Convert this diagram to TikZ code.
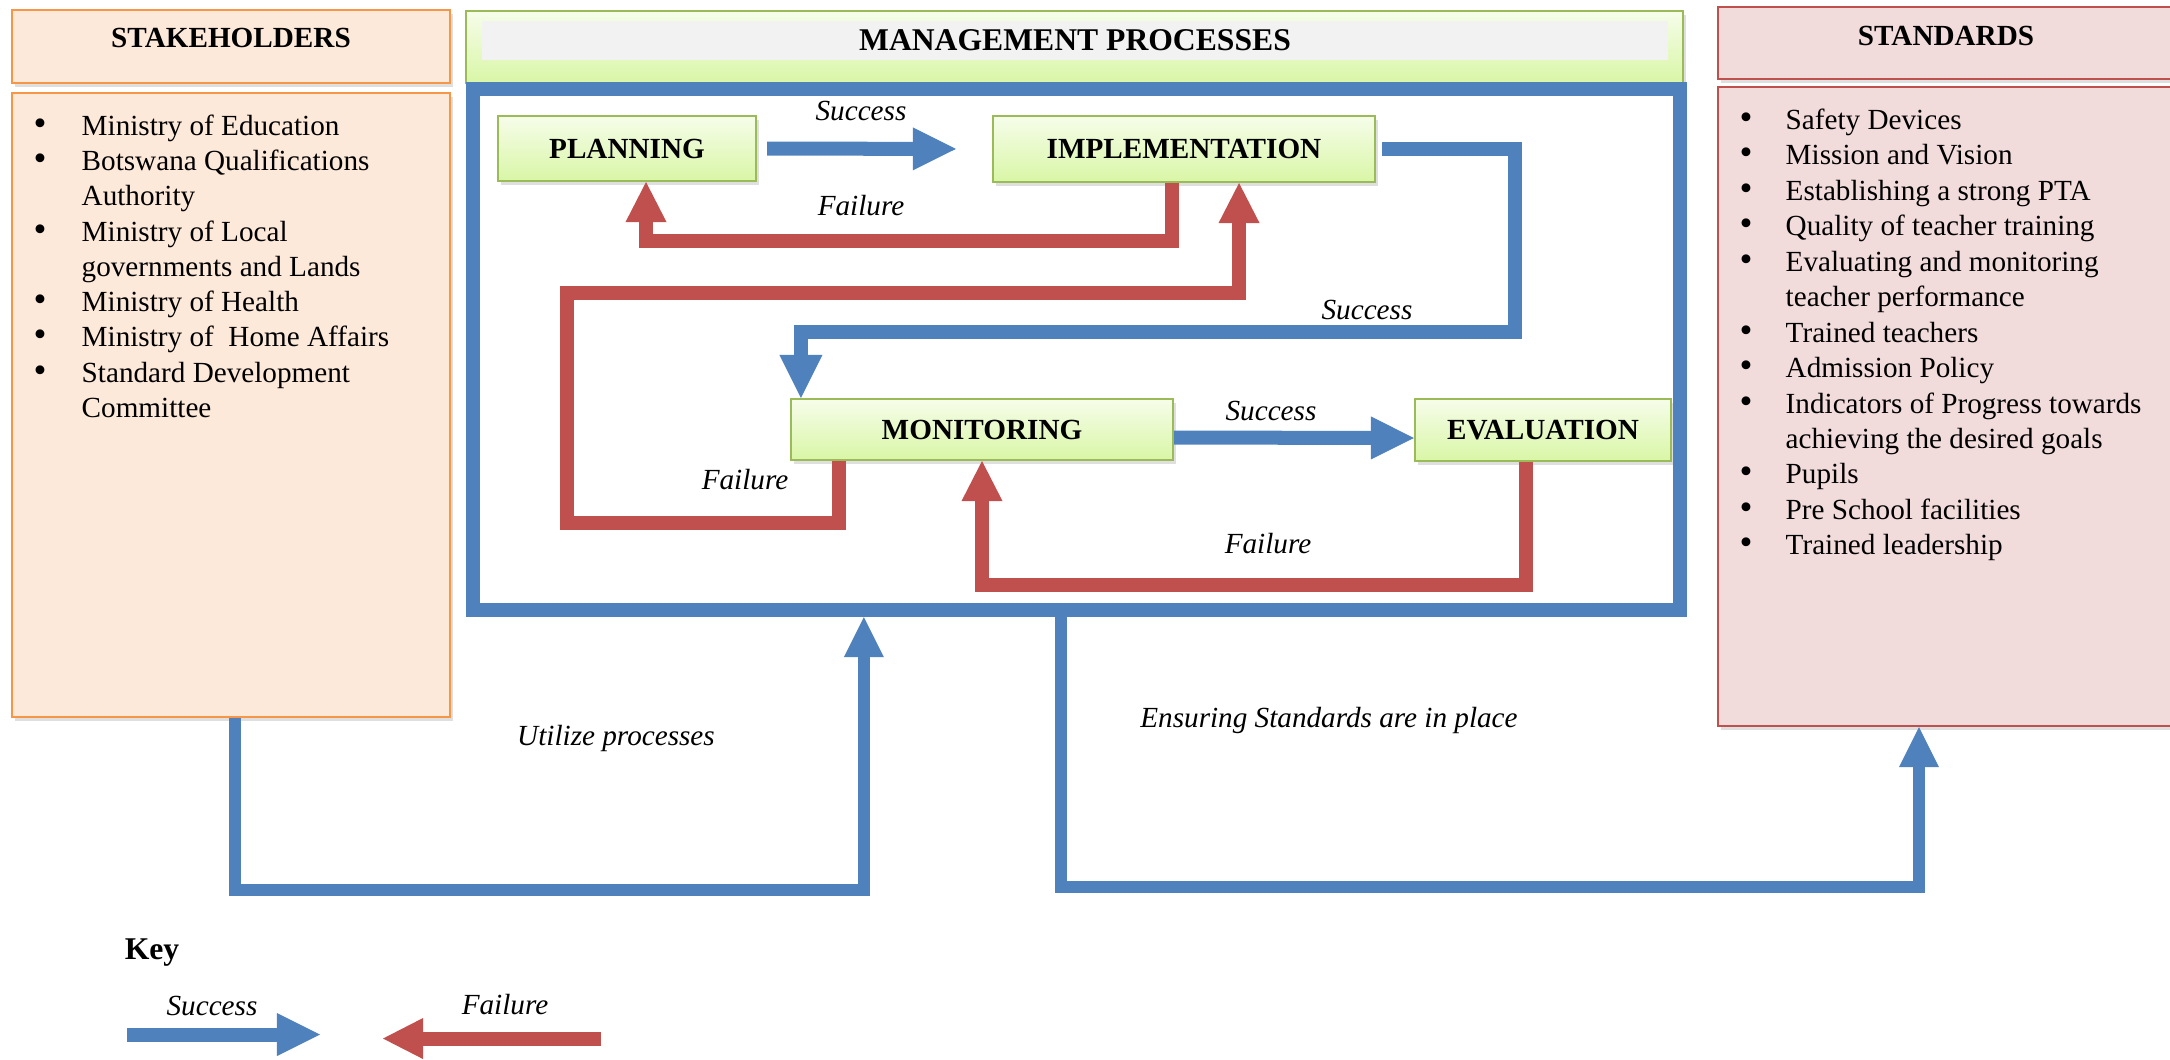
\documentclass[tikz,border=0pt]{standalone}
\usepackage{fontspec}
\setmainfont{Liberation Serif}
\usetikzlibrary{arrows.meta,shadows}

\definecolor{succblue}{HTML}{4F81BD}
\definecolor{failred}{HTML}{C0504D}
\definecolor{boxtop}{HTML}{F6FDEA}
\definecolor{boxbot}{HTML}{D9F6A6}
\definecolor{boxline}{HTML}{9BBB59}
\definecolor{stakefill}{HTML}{FDE9D9}
\definecolor{stakeline}{HTML}{F79646}
\definecolor{stdfill}{HTML}{F2DCDB}
\definecolor{stdline}{HTML}{C0504D}
\definecolor{bargrey}{HTML}{F2F2F2}

\newcommand{\dsz}{\fontsize{8.3}{10}\selectfont}
\newcommand{\tsz}{\fontsize{9}{11}\selectfont}

\tikzset{
	boxshadow/.style={drop shadow={opacity=0.25,shadow xshift=0.03cm,shadow yshift=-0.04cm}},
	procbox/.style={draw=boxline, line width=0.02cm, top color=boxtop, bottom color=boxbot, inner sep=0, font=\dsz\bfseries, boxshadow},
	sidebox/.style={line width=0.02cm, inner sep=0, boxshadow},
	succ/.style={succblue, line width=0.14cm, -{Triangle[width=0.43cm,length=0.43cm,line width=0pt]}},
	fail/.style={failred, line width=0.14cm, -{Triangle[width=0.41cm,length=0.40cm,line width=0pt]}},
	link/.style={succblue, line width=0.12cm, -{Triangle[width=0.40cm,length=0.40cm,line width=0pt]}},
	lbl/.style={font=\dsz\itshape, inner sep=0},
	itemtxt/.style={font=\dsz, anchor=base west, inner sep=0},
	dot/.style={font=\fontsize{10.5}{12}\selectfont, anchor=base, inner sep=0},
	title/.style={font=\dsz\bfseries, inner sep=0}
}

\begin{document}
\begin{tikzpicture}[x=0.01cm,y=-0.01cm]
	\useasboundingbox (0,0) rectangle (2170,1059);
	
	% stakeholders and standards
	\node[sidebox, draw=stakeline, fill=stakefill, minimum width=4.38cm, minimum height=0.73cm] (stakehead) at (231,46.5) {};
	\node[title] at (231,38) {STAKEHOLDERS};
	\node[sidebox, draw=stakeline, fill=stakefill, minimum width=4.38cm, minimum height=6.24cm] (stakebody) at (231,405) {};
	\node[sidebox, draw=stdline, fill=stdfill, minimum width=4.56cm, minimum height=0.72cm] (stdhead) at (1946,43) {};
	\node[title] at (1946,36) {STANDARDS};
	\node[sidebox, draw=stdline, fill=stdfill, minimum width=4.56cm, minimum height=6.39cm] (stdbody) at (1946,406.5) {};
	
	\foreach \yy in {135,170,241,311,346,382}
		\node[dot] at (40,\yy) {•};
	\foreach \yy/\txt in {135/Ministry of Education, 170/Botswana Qualifications, 205/Authority, 241/Ministry of Local, 276/governments and Lands, 311/Ministry of Health, 346/Ministry of\ \ Home Affairs, 382/Standard Development, 417/Committee}
		\node[itemtxt] at (81,\yy) {\txt};
	
	\foreach \yy in {129,164,200,235,271,342,377,413,483,519,554}
		\node[dot] at (1746,\yy) {•};
	\foreach \yy/\txt in {129/Safety Devices, 164/Mission and Vision, 200/Establishing a strong PTA, 235/Quality of teacher training, 271/Evaluating and monitoring, 306/teacher performance, 342/Trained teachers, 377/Admission Policy, 413/Indicators of Progress towards, 448/achieving the desired goals, 483/Pupils, 519/Pre School facilities, 554/Trained leadership}
		\node[itemtxt] at (1785,\yy) {\txt};
	
	% management processes
	\node[procbox, minimum width=12.17cm, minimum height=0.72cm] (mgmthead) at (1074.5,47) {};
	\node[fill=bargrey, minimum width=11.86cm, minimum height=0.39cm, inner sep=0, font=\tsz\bfseries] (mgmtbar) at (1075,40.5) {MANAGEMENT PROCESSES};
	\node[draw=succblue, line width=0.14cm, minimum width=12.07cm, minimum height=5.21cm, inner sep=0] (mgmt) at (1076.5,349.5) {};
	
	\node[procbox, minimum width=2.58cm, minimum height=0.65cm] (plan) at (627,148.5) {PLANNING};
	\node[procbox, minimum width=3.82cm, minimum height=0.66cm] (impl) at (1184,149) {IMPLEMENTATION};
	\node[procbox, minimum width=3.82cm, minimum height=0.61cm] (moni) at (982,429.5) {MONITORING};
	\node[procbox, minimum width=2.56cm, minimum height=0.62cm] (eval) at (1543,430) {EVALUATION};
	
	\coordinate (fbend) at (567,293);
	\coordinate (sbend) at (1515,332);
	
	\draw[succ, shorten <=0.1cm, shorten >=0.36cm] (plan.east) -- (impl.west);
	\draw[fail] ([xshift=-0.12cm]impl.south) -- ++(0,58) -| ([xshift=0.19cm]plan.south);
	\draw[fail] ([xshift=-1.43cm]moni.south) -- ++(0,62) -| (fbend) -| ([xshift=0.55cm]impl.south);
	\draw[succ] ([xshift=0.06cm]impl.east) -| (sbend) -| ([xshift=-1.81cm]moni.north);
	\draw[succ] ([yshift=-0.08cm]moni.east) -- ([yshift=-0.08cm]eval.west);
	\draw[fail] ([xshift=-0.17cm]eval.south) -- ++(0,123) -| (moni.south);
	
	\node[lbl] at (861,111) {Success};
	\node[lbl] at (861,206) {Failure};
	\node[lbl] at (1367,310) {Success};
	\node[lbl] at (1271,411) {Success};
	\node[lbl] at (745,480) {Failure};
	\node[lbl] at (1268,544) {Failure};
	
	% links to the side boxes
	\draw[link] ([xshift=0.04cm]stakebody.south) -- ++(0,172) -| ([xshift=-2.125cm]mgmt.south);
	\draw[link] ([xshift=-0.155cm]mgmt.south) -- ++(0,270) -| ([xshift=-0.27cm]stdbody.south);
	\node[lbl] at (616,738) {Utilize processes};
	\node[lbl] at (1329,720) {Ensuring Standards are in place};
	
	% key
	\node[font=\tsz\bfseries, inner sep=0] (key) at (152,953) {Key};
	\coordinate (ksucc0) at (127,1034.5);
	\coordinate (ksucc1) at (320,1034.5);
	\coordinate (kfail0) at (601,1038.5);
	\coordinate (kfail1) at (383,1038.5);
	\draw[succ] (ksucc0) -- (ksucc1);
	\draw[fail] (kfail0) -- (kfail1);
	\node[lbl] at (212,1006) {Success};
	\node[lbl] at (505,1005) {Failure};
\end{tikzpicture}
\end{document}
